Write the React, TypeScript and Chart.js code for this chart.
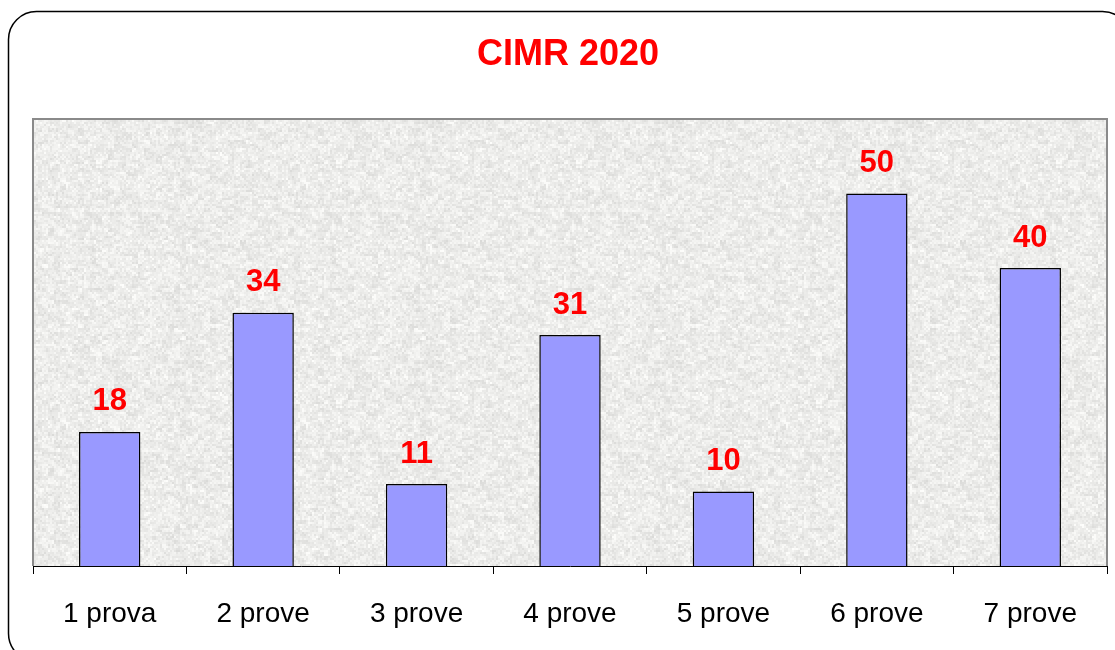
import React, { useEffect, useRef } from "react";
import { Chart, registerables } from "chart.js";

Chart.register(...registerables);

const title = "CIMR 2020";
const categories = ["1 prova", "2 prove", "3 prove", "4 prove", "5 prove", "6 prove", "7 prove"];
const values = [18, 34, 11, 31, 10, 50, 40];
const yMax = 60;

function makeTexture(): CanvasPattern | string {
  const c = document.createElement("canvas");
  const size = 240;
  c.width = size;
  c.height = size;
  const ctx = c.getContext("2d");
  if (!ctx) return "#e9e9e7";
  const img = ctx.createImageData(size, size);
  const hash = (x: number, y: number) => {
    let h = (x * 374761393 + y * 668265263) | 0;
    h = (h ^ (h >>> 13)) * 1274126177;
    h = h ^ (h >>> 16);
    return ((h >>> 0) % 1000) / 1000;
  };
  for (let y = 0; y < size; y++) {
    for (let x = 0; x < size; x++) {
      const bx = Math.floor(x / 2), by = Math.floor(y / 2);
      const n = hash(bx, by) * 0.55 + hash(Math.floor(x / 6), Math.floor(y / 4)) * 0.45;
      const v = Math.round(218 + n * 36);
      const i = (y * size + x) * 4;
      img.data[i] = v;
      img.data[i + 1] = v;
      img.data[i + 2] = v - 2;
      img.data[i + 3] = 255;
    }
  }
  ctx.putImageData(img, 0, 0);
  const p = ctx.createPattern(c, "repeat");
  return p || "#e9e9e7";
}

export default function App() {
  const ref = useRef<HTMLCanvasElement | null>(null);
  useEffect(() => {
    if (!ref.current) return;
    const texture = makeTexture();
    const decor = {
      id: "decor",
      beforeDraw(chart: any) {
        const ctx = chart.ctx;
        const a = chart.chartArea;
        ctx.save();
        ctx.fillStyle = "#ffffff";
        ctx.fillRect(0, 0, chart.width, chart.height);
        ctx.beginPath();
        ctx.roundRect(8.5, 11.5, 1122, 650, 28);
        ctx.strokeStyle = "#000000";
        ctx.lineWidth = 1.5;
        ctx.stroke();
        ctx.fillStyle = "#ff0000";
        ctx.font = "bold 36px 'Liberation Sans', Arial, sans-serif";
        ctx.textAlign = "center";
        ctx.textBaseline = "middle";
        ctx.fillText(title, 568, 55);
        ctx.fillStyle = texture as any;
        ctx.fillRect(a.left, a.top, a.right - a.left, a.bottom - a.top);
        ctx.strokeStyle = "#8a8a8a";
        ctx.lineWidth = 2;
        ctx.beginPath();
        ctx.moveTo(a.left, a.bottom);
        ctx.lineTo(a.left, a.top);
        ctx.lineTo(a.right, a.top);
        ctx.lineTo(a.right, a.bottom);
        ctx.stroke();
        ctx.restore();
      },
      afterDatasetsDraw(chart: any) {
        const ctx = chart.ctx;
        const meta = chart.getDatasetMeta(0);
        ctx.save();
        ctx.fillStyle = "#ff0000";
        ctx.font = "bold 31px 'Liberation Sans', Arial, sans-serif";
        ctx.textAlign = "center";
        ctx.textBaseline = "middle";
        meta.data.forEach((el: any, i: number) => {
          ctx.fillText(String(values[i]), el.x, el.y - 30);
        });
        ctx.restore();
      },
    };
    const chart = new Chart(ref.current, {
      type: "bar",
      data: {
        labels: categories,
        datasets: [
          {
            data: values,
            backgroundColor: "#9999ff",
            borderColor: "#000000",
            borderWidth: 1.5,
            categoryPercentage: 1,
            barPercentage: 0.4,
          },
        ],
      },
      options: {
        animation: false,
        responsive: false,
        maintainAspectRatio: false,
        layout: { padding: { left: 33, right: 8, top: 119, bottom: 0 } },
        plugins: { legend: { display: false }, title: { display: false }, tooltip: { enabled: false } },
        scales: {
          y: { display: false, min: 0, max: yMax },
          x: {
            afterFit: (s: any) => {
              s.height = 84;
            },
            border: { display: true, color: "#000000", width: 1 },
            grid: {
              display: true,
              drawOnChartArea: false,
              drawTicks: true,
              tickLength: 8,
              color: "#000000",
              offset: true,
            },
            ticks: {
              color: "#000000",
              padding: 23,
              font: { family: "'Liberation Sans', Arial, sans-serif", size: 28 },
            },
          },
        },
      },
      plugins: [decor],
    });
    return () => chart.destroy();
  }, []);
  return (
    <div style={{ position: "fixed", left: 0, top: 0, width: 1115, height: 650, background: "#fff" }}>
      <canvas ref={ref} width={1115} height={650} style={{ display: "block" }} />
    </div>
  );
}
